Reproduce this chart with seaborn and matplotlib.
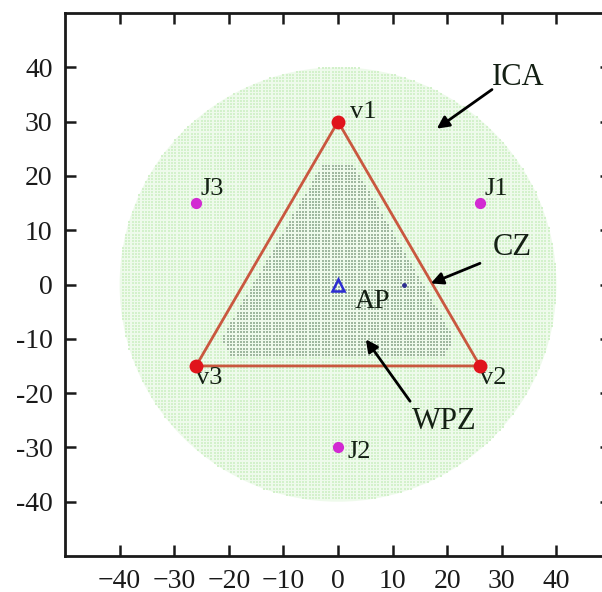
import numpy as np
import pandas as pd
import matplotlib.pyplot as plt
import seaborn as sns

sns.set_style("ticks")
plt.rcParams['font.family'] = ['Liberation Serif', 'DejaVu Serif']
plt.rcParams['axes.unicode_minus'] = True

# triangle (convex zone) vertices
vertex_names = ['v1', 'v2', 'v3']
vertex_x = [0, 26, -26]
vertex_y = [30, -15, -15]

# jammers
jammer_names = ['J1', 'J2', 'J3']
jammer_x = [26, 0, -26]
jammer_y = [15, -30, 15]

# access point and the small probe dot
ap_x, ap_y = [0], [0]
probe_x, probe_y = [12], [0]

# zone parameters
ica_radius = 40
wpz_radius = 23
wpz_center = (0, -1)
wpz_inset = 1.5
grid_step = 0.6

x_ticks = [-40, -30, -20, -10, 0, 10, 20, 30, 40]
x_tick_labels = ['\u221240', '\u221230', '\u221220', '\u221210', '0', '10', '20', '30', '40']
y_ticks = [40, 30, 20, 10, 0, -10, -20, -30, -40]
y_tick_labels = ['40', '30', '20', '10', '0', '-10', '-20', '-30', '-40']

# sample grid for the shaded zones
g = np.arange(-ica_radius, ica_radius + grid_step, grid_step)
gx, gy = np.meshgrid(g, g)
gx, gy = gx.ravel(), gy.ravel()
ica_mask = np.hypot(gx, gy) <= ica_radius

# inside triangle (inset) -- CCW order v1, v3, v2
tri = [(vertex_x[0], vertex_y[0]), (vertex_x[2], vertex_y[2]), (vertex_x[1], vertex_y[1])]
inside = np.ones_like(gx, dtype=bool)
for i in range(3):
    ax_, ay_ = tri[i]
    bx_, by_ = tri[(i + 1) % 3]
    ex, ey = bx_ - ax_, by_ - ay_
    d = (ex * (gy - ay_) - ey * (gx - ax_)) / np.hypot(ex, ey)
    inside &= d >= wpz_inset
wpz_mask = inside & (np.hypot(gx - wpz_center[0], gy - wpz_center[1]) <= wpz_radius)

ica_df = pd.DataFrame({'x': gx[ica_mask & ~wpz_mask], 'y': gy[ica_mask & ~wpz_mask]})
wpz_df = pd.DataFrame({'x': gx[wpz_mask], 'y': gy[wpz_mask]})

fig = plt.figure(figsize=(6.02, 5.92), dpi=100)
ax = fig.add_axes([65 / 602, 36 / 592, 546 / 602, 543 / 592])

# ICA and WPZ as grids of small squares
ax.add_patch(plt.Circle((0, 0), ica_radius, color='#eefaeb', lw=0, zorder=0))
sns.scatterplot(data=ica_df, x='x', y='y', marker='s', s=3.2, color='#d3f1cb',
                linewidth=0, ax=ax, zorder=1, legend=False)
sns.scatterplot(data=wpz_df, x='x', y='y', marker='s', s=4.5, color='#9fb89f',
                linewidth=0, ax=ax, zorder=2, legend=False)

# triangle CZ boundary
tri_df = pd.DataFrame({'x': vertex_x + vertex_x[:1], 'y': vertex_y + vertex_y[:1]})
sns.lineplot(data=tri_df, x='x', y='y', sort=False, estimator=None,
             color='#c9573f', lw=2, ax=ax, zorder=3)

sns.scatterplot(x=vertex_x, y=vertex_y, color='#e0141c', s=100, linewidth=0, ax=ax, zorder=4)
sns.scatterplot(x=jammer_x, y=jammer_y, color='#d22ad2', s=65, linewidth=0, ax=ax, zorder=4)
ax.plot(ap_x, ap_y, marker='^', ls='none', mfc='none', mec='#2d2dd2', ms=9, mew=1.8, zorder=4)
ax.plot(probe_x, probe_y, marker='o', ls='none', color='#2d2d90', ms=2.5, zorder=4)

txt = '#142014'
offsets = {'v1': (9, 7), 'v2': (0, -9), 'v3': (0, -9),
           'J1': (3, 10), 'J2': (7, -3), 'J3': (3, 10)}
for n, x, y in zip(vertex_names + jammer_names, vertex_x + jammer_x, vertex_y + jammer_y):
    ax.annotate(n, (x, y), xytext=offsets[n], textcoords='offset points',
                ha='left', va='center', fontsize=19, color=txt)
ax.annotate('AP', (ap_x[0], ap_y[0]), xytext=(12, -12), textcoords='offset points',
            ha='left', va='center', fontsize=20, color=txt)

arrow = dict(arrowstyle='-|>', color='black', lw=2, mutation_scale=18, shrinkA=0, shrinkB=0)
ax.text(33, 38.2, 'ICA', fontsize=22, ha='center', va='center', color=txt)
ax.annotate('', xy=(18.1, 28.7), xytext=(28.2, 35.9), arrowprops=arrow)
ax.text(32, 6.8, 'CZ', fontsize=22, ha='center', va='center', color=txt)
ax.annotate('', xy=(17.0, 0.2), xytext=(26, 3.9), arrowprops=arrow)
ax.text(19.4, -25.2, 'WPZ', fontsize=22, ha='center', va='center', color=txt)
ax.annotate('', xy=(5.1, -10.1), xytext=(13.2, -21.5), arrowprops=arrow)

ax.set_xlim(-50, 50)
ax.set_ylim(-50, 50)
ax.set_xticks(x_ticks)
ax.set_xticklabels(x_tick_labels)
ax.set_yticks(y_ticks)
ax.set_yticklabels(y_tick_labels)
ax.set_xlabel('')
ax.set_ylabel('')
ax.tick_params(direction='in', top=True, right=True, length=8, width=1.8,
               labelsize=20, pad=9, colors='#1a1a1a')
for s in ax.spines.values():
    s.set_linewidth(2)
    s.set_color('#1a1a1a')

fig.savefig('out.png', dpi=100)
